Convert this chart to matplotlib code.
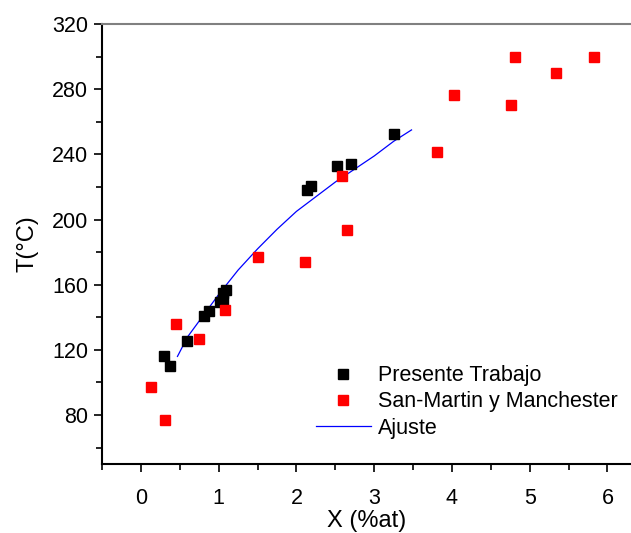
import matplotlib.pyplot as plt
from matplotlib.ticker import MultipleLocator
from matplotlib.lines import Line2D

plt.rcParams['font.family'] = ['Liberation Sans', 'DejaVu Sans']

# Presente Trabajo (black squares)
x_pt = [0.30, 0.37, 0.59, 0.81, 0.87, 1.02, 1.06, 1.06, 1.09, 2.13, 2.19, 2.52, 2.70, 3.25]
t_pt = [116.3, 110.2, 125.3, 140.9, 143.7, 149.6, 150.7, 154.8, 156.6, 218.2, 220.8, 233.1, 234.3, 252.5]

# San-Martin y Manchester (red squares)
x_sm = [0.13, 0.31, 0.45, 0.75, 1.08, 1.50, 2.11, 2.59, 2.65, 3.81, 4.02, 4.76, 4.81, 5.34, 5.83]
t_sm = [97.1, 76.9, 136.0, 126.9, 144.7, 176.9, 173.8, 226.7, 193.8, 241.7, 276.6, 270.5, 299.6, 289.8, 299.6]

# Ajuste (curve)
x_fit = [0.47, 0.6, 0.8, 1.0, 1.25, 1.5, 1.75, 2.0, 2.25, 2.5, 2.75, 3.0, 3.25, 3.48]
t_fit = [116, 128, 141, 154, 169, 182, 194, 205, 214, 223, 231, 239, 248, 255]

fig = plt.figure(figsize=(6.31, 5.33), dpi=100)
ax = fig.add_axes([0.1617, 0.1295, 0.838, 0.8255])

ax.plot(x_pt, t_pt, 's', color='black', ms=7.5, ls='none', zorder=3)
ax.plot(x_sm, t_sm, 's', color='#ff0000', ms=7.2, ls='none', zorder=3)
ax.plot(x_fit, t_fit, color='#0000ff', lw=0.9, zorder=2)

ax.set_xlim(-0.5, 6.3)
ax.set_ylim(50, 320)
ax.xaxis.set_major_locator(MultipleLocator(1))
ax.xaxis.set_minor_locator(MultipleLocator(0.5))
ax.yaxis.set_major_locator(MultipleLocator(40))
ax.yaxis.set_minor_locator(MultipleLocator(20))
ax.tick_params(which='major', direction='out', length=6, width=1.2, labelsize=15.5, pad=4)
ax.tick_params(which='minor', direction='out', length=4, width=1.2)
ax.tick_params(axis='x', which='major', pad=11)
ax.tick_params(top=False, right=False)

ax.spines['right'].set_visible(False)
ax.spines['top'].set_color('#808080')
ax.spines['top'].set_linewidth(1.5)
ax.spines['left'].set_linewidth(1.5)
ax.spines['bottom'].set_linewidth(1.5)

ax.set_xlabel('X (%at)', fontsize=17, labelpad=1)
ax.set_ylabel('T(°C)', fontsize=17, labelpad=10)

handles = [
    Line2D([], [], marker='s', color='black', ms=7, ls='none'),
    Line2D([], [], marker='s', color='#ff0000', ms=7, ls='none'),
    Line2D([], [], color='#0000ff', lw=0.9),
]
labels = ['Presente Trabajo', 'San-Martin y Manchester', 'Ajuste']
ax.legend(handles, labels, loc='lower left', bbox_to_anchor=(0.368, 0.013),
          frameon=False, fontsize=15.5, handlelength=2.55, handletextpad=0.33,
          labelspacing=0.25)

fig.savefig('out.png', dpi=100)
